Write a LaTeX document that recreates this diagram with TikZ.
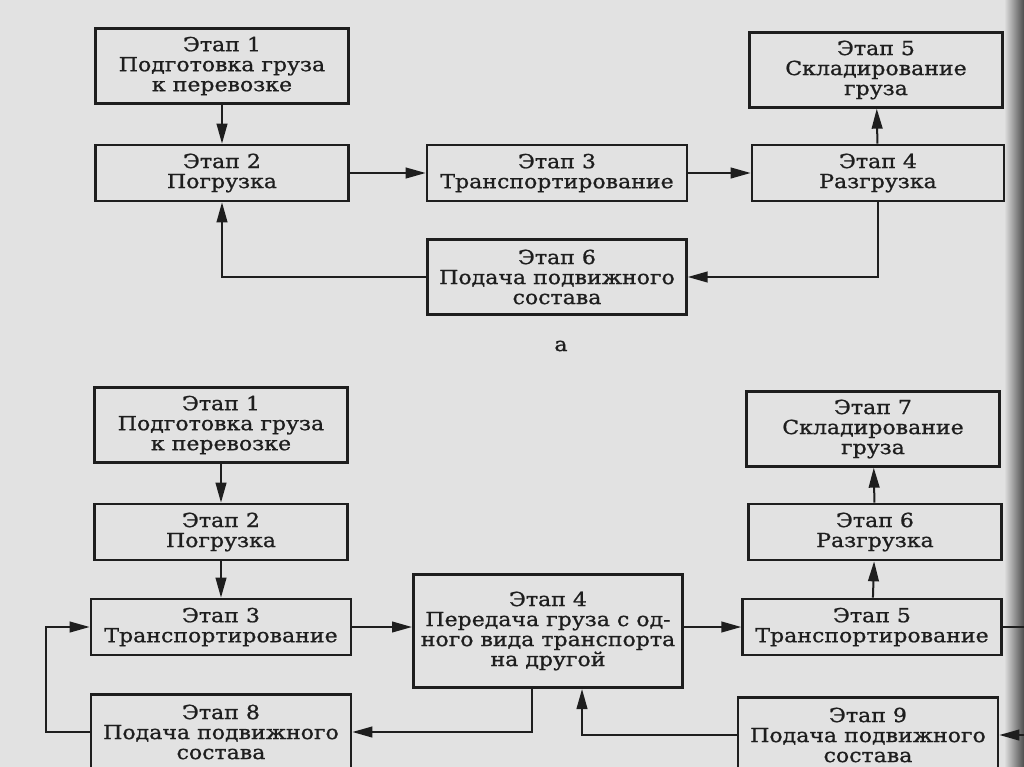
\documentclass[tikz,border=0pt]{standalone}
\usepackage{fontspec}
\setmainfont{DejaVu Serif}[FakeStretch=1.14, FakeBold=1]
\usetikzlibrary{arrows.meta, positioning, calc}
\definecolor{paper}{RGB}{226,226,226}
\definecolor{ink}{RGB}{30,30,30}

\begin{document}
\begin{tikzpicture}[
      x=0.75pt, y=-0.75pt,
      stage/.style={rectangle, draw=ink, line width=2pt, inner sep=0pt, align=center,
        text=ink, font=\fontsize{14.5}{15}\selectfont, minimum width=190pt, minimum height=42pt},
      tall/.style={minimum height=56pt},
      link/.style={draw=ink, line width=1.5pt, -{Triangle[length=15pt,width=8pt]}}
    ]
    \useasboundingbox (0,0) rectangle (1024,767);
    \clip (0,0) rectangle (1024,767);
    \fill[paper] (0,0) rectangle (1024,767);
    \shade[left color=paper, right color=black!70] (1004,0) rectangle (1024,767);

    % scheme a
    \node[stage, tall] (prepA) at (222,66) {Этап 1\\Подготовка груза\\к перевозке};
    \node[stage] (loadA) at (222,173) {Этап 2\\Погрузка};
    \node[stage, minimum width=195pt] (transA) at (557,173) {Этап 3\\Транспортирование};
    \node[stage, minimum width=189pt] (unloadA) at (878,173) {Этап 4\\Разгрузка};
    \node[stage, tall] (storeA) at (876,70) {Этап 5\\Складирование\\груза};
    \node[stage, tall, minimum width=194pt] (supplyA) at (557,277) {Этап 6\\Подача подвижного\\состава};
    \node[text=ink, font=\fontsize{14.5}{15}\selectfont] (capA) at (561,346) {а};

    \draw[link] (prepA) -- (loadA);
    \draw[link] (loadA) -- (transA);
    \draw[link] (transA) -- (unloadA);
    \draw[link] (unloadA) -- (storeA);
    \draw[link] (unloadA.south) |- (supplyA.east);
    \draw[link] (supplyA.west) -| (loadA.south);

    % scheme b
    \node[stage, tall] (prepB) at (221,425) {Этап 1\\Подготовка груза\\к перевозке};
    \node[stage] (loadB) at (221,532) {Этап 2\\Погрузка};
    \node[stage, minimum width=195pt] (transB) at (221,627) {Этап 3\\Транспортирование};
    \node[stage, minimum width=202pt, minimum height=85pt] (transferB) at (548,631)
      {Этап 4\\Передача груза с од-\\ного вида транспорта\\на другой};
    \node[stage, minimum width=194pt] (transB2) at (872,627) {Этап 5\\Транспортирование};
    \node[stage] (unloadB) at (875,532) {Этап 6\\Разгрузка};
    \node[stage, tall] (storeB) at (873,429) {Этап 7\\Складирование\\груза};
    \node[stage, tall, minimum width=195pt] (supplyB) at (221,732) {Этап 8\\Подача подвижного\\состава};
    \node[stage, tall, minimum width=195pt] (supplyB2) at (868,735) {Этап 9\\Подача подвижного\\состава};

    \draw[link] (prepB) -- (loadB);
    \draw[link] (loadB) -- (transB);
    \draw[link] (transB) -- (transB.east -| transferB.west);
    \draw[link] (transferB.east |- transB2) -- (transB2);
    \draw[link] (transB2) -- (unloadB);
    \draw[link] (unloadB) -- (storeB);
    \draw[link] (supplyB.west) -- ++(-44,0) |- (transB.west);
    \draw[link] ($(transferB.south)+(-16,0)$) |- (supplyB.east);
    \draw[link] (supplyB2.west) -| ($(transferB.south)+(34,0)$);
    \draw[link] (transB2.east) -- ++(40,0) |- (supplyB2.east);
  \end{tikzpicture}
\end{document}
